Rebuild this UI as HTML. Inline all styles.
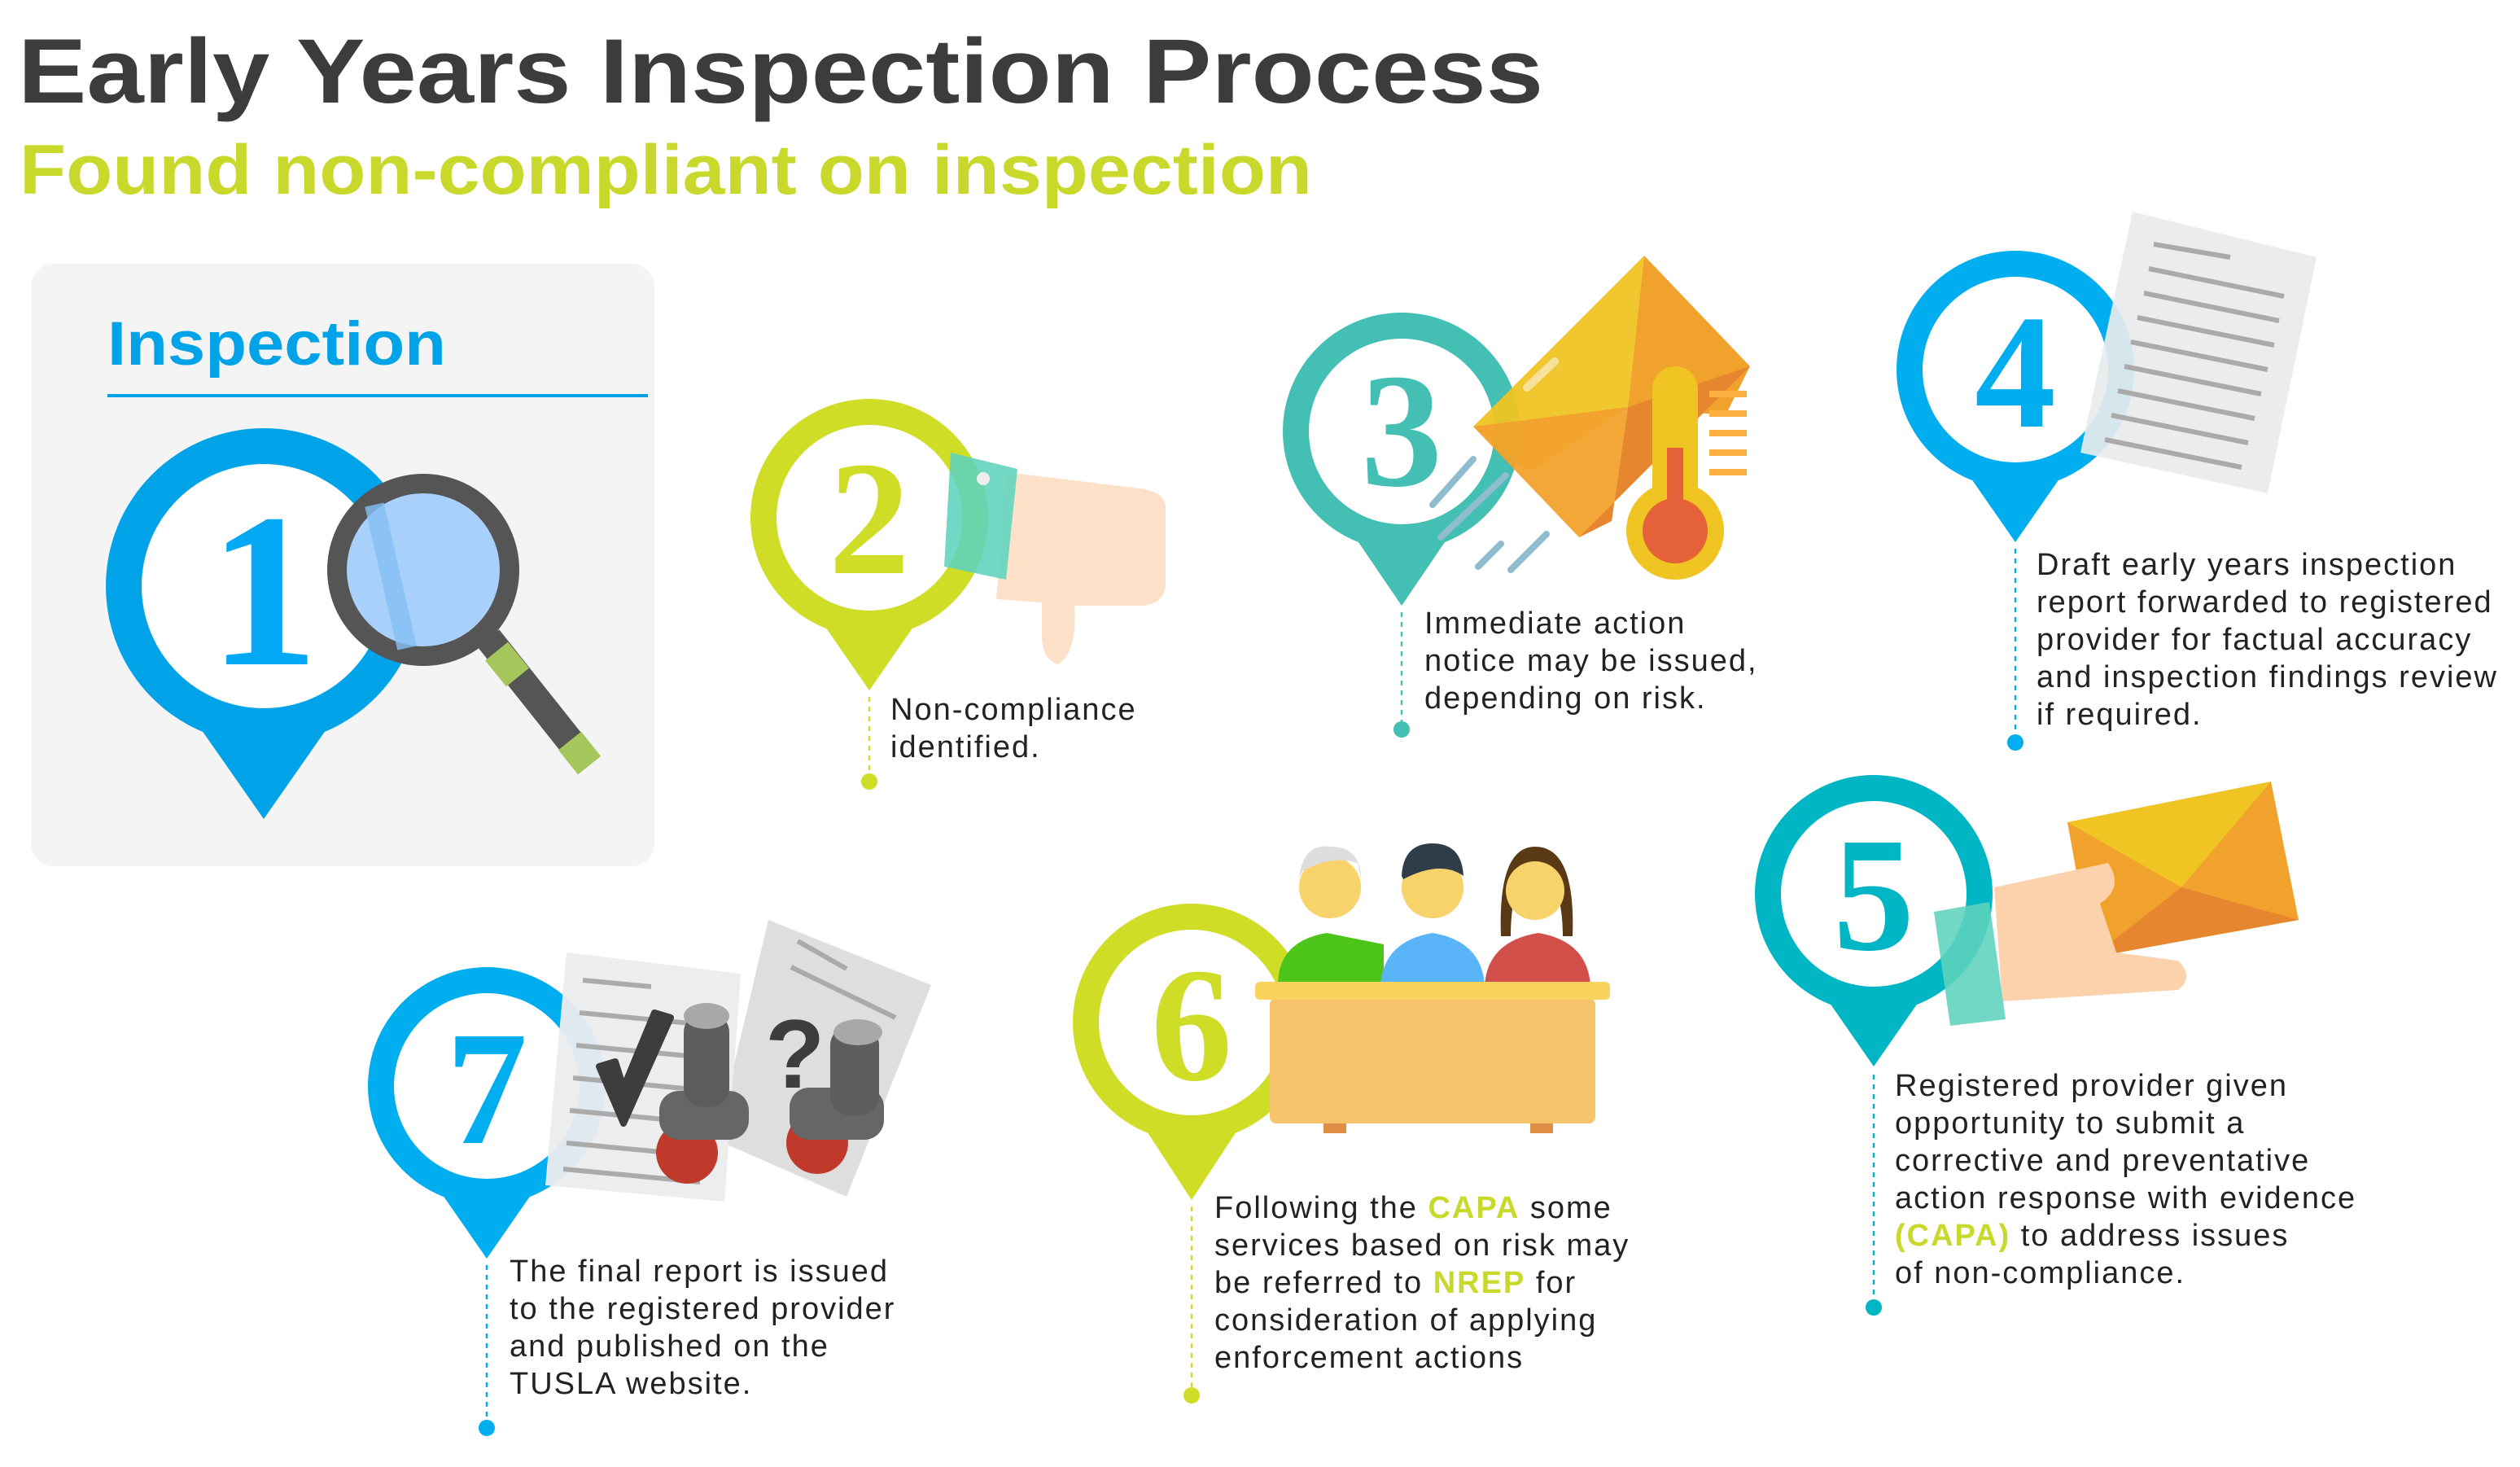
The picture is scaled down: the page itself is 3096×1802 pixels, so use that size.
<!DOCTYPE html>
<html><head><meta charset="utf-8"><style>
html,body{margin:0;padding:0;background:#fff;}
svg{display:block;}
.t{font-family:"Liberation Sans",sans-serif;font-size:19px;letter-spacing:1px;fill:#222;}
.n{font-family:"Liberation Serif",serif;font-weight:bold;}
</style></head><body>
<svg width="3096" height="1802" viewBox="0 0 1548 901" xmlns="http://www.w3.org/2000/svg">
<rect width="1548" height="901" fill="#fff"/>
<text x="11" y="63" font-family="Liberation Sans, sans-serif" font-weight="bold" font-size="56" fill="#3c3c3c" textLength="937" lengthAdjust="spacingAndGlyphs">Early Years Inspection Process</text>
<text x="12" y="119" font-family="Liberation Sans, sans-serif" font-weight="bold" font-size="43" fill="#c8d92c" textLength="794" lengthAdjust="spacingAndGlyphs">Found non-compliant on inspection</text>

<rect x="19" y="162" width="383" height="370" rx="14" fill="#f4f4f4"/>
<text x="66" y="224" font-family="Liberation Sans, sans-serif" font-weight="bold" font-size="38" fill="#00a3e8" textLength="208" lengthAdjust="spacingAndGlyphs">Inspection</text>
<rect x="66" y="242" width="332" height="2" fill="#00a3e8"/>

<!-- Pin 1 -->
<g fill="#00a3e8">
<circle cx="162" cy="360" r="97"/>
<polygon points="118,440 206,440 162,503"/>
</g>
<circle cx="162" cy="360" r="75" fill="#fff"/>
<text x="162" y="408" text-anchor="middle" class="n" font-size="135" fill="#03a9f4">1</text>
<line x1="300" y1="392" x2="362" y2="470" stroke="#555" stroke-width="17" stroke-linecap="butt"/>
<line x1="305" y1="400" x2="318" y2="416" stroke="#a5c65a" stroke-width="18"/>
<line x1="350" y1="455" x2="362" y2="470" stroke="#a5c65a" stroke-width="18"/>
<circle cx="260" cy="350" r="53" fill="#a8d0fa" stroke="#555" stroke-width="12"/>
<path d="M230,310 L250,398" stroke="#84c1f7" stroke-width="12" opacity=".8"/>

<!-- Pin 2 -->
<g fill="#cfdd26">
<circle cx="534" cy="318" r="73"/>
<polygon points="500,375 568,375 534,424"/>
</g>
<circle cx="534" cy="318" r="57" fill="#fff"/>
<text x="534" y="352" text-anchor="middle" class="n" font-size="100" fill="#cfdd26">2</text>
<path d="M618,290 L700,300 Q716,302 716,312 L716,360 Q714,372 700,372 L660,372 Q662,400 650,408 Q640,405 640,390 L640,370 L612,368 Z" fill="#fde0c8"/>
<polygon points="584,278 625,288 618,356 580,348" fill="#5fd3bd" opacity=".88"/>
<circle cx="604" cy="294" r="4" fill="#eee"/>
<line x1="534" y1="428" x2="534" y2="475" stroke="#cfdd26" stroke-width="1.2" stroke-dasharray="3,3"/>
<circle cx="534" cy="480" r="5" fill="#cfdd26"/>
<text class="t" transform="translate(0,-5)"><tspan x="547" y="447">Non-compliance</tspan><tspan x="547" y="470">identified.</tspan></text>

<!-- Pin 3 -->
<g fill="#43bfb3">
<circle cx="861" cy="265" r="73"/>
<polygon points="827,322 895,322 861,372"/>
</g>
<circle cx="861" cy="265" r="57" fill="#fff"/>
<text x="861" y="298" text-anchor="middle" class="n" font-size="100" fill="#43bfb3">3</text>
<polygon points="1010,157 905,262 940,290 1000,250" fill="#efc423" opacity=".95"/>
<polygon points="1010,157 1075,225 1060,255 1000,250" fill="#f1a22c"/>
<polygon points="905,262 1000,250 990,320 970,330" fill="#f1a22c" opacity=".95"/>
<polygon points="1000,250 1075,225 970,330 990,320" fill="#e6862f"/>
<line x1="938" y1="238" x2="955" y2="222" stroke="#f6e09a" stroke-width="5" stroke-linecap="round"/>
<rect x="1015" y="225" width="28" height="95" rx="14" fill="#efc423"/>
<circle cx="1029" cy="326" r="30" fill="#efc423"/>
<circle cx="1029" cy="326" r="20" fill="#e5613a"/>
<rect x="1024" y="275" width="10" height="50" fill="#e5613a"/>
<g stroke="#fbb040" stroke-width="4">
<line x1="1050" y1="242" x2="1073" y2="242"/><line x1="1050" y1="254" x2="1073" y2="254"/><line x1="1050" y1="266" x2="1073" y2="266"/><line x1="1050" y1="278" x2="1073" y2="278"/><line x1="1050" y1="290" x2="1073" y2="290"/>
</g>
<g stroke="#8fbccf" stroke-width="4" stroke-linecap="round">
<line x1="880" y1="310" x2="905" y2="282"/><line x1="885" y1="330" x2="925" y2="292"/><line x1="908" y1="348" x2="922" y2="334"/><line x1="928" y1="350" x2="950" y2="328"/>
</g>
<line x1="861" y1="376" x2="861" y2="443" stroke="#43bfb3" stroke-width="1.2" stroke-dasharray="3,3"/>
<circle cx="861" cy="448" r="5" fill="#43bfb3"/>
<text class="t" transform="translate(0,-5)"><tspan x="875" y="394">Immediate action</tspan><tspan x="875" y="417">notice may be issued,</tspan><tspan x="875" y="440">depending on risk.</tspan></text>

<!-- Pin 4 -->
<g fill="#00aeef">
<circle cx="1238" cy="227" r="73"/>
<polygon points="1204,284 1272,284 1238,333"/>
</g>
<circle cx="1238" cy="227" r="57" fill="#fff"/>
<text x="1238" y="262" text-anchor="middle" class="n" font-size="100" fill="#00aeef">4</text>
<polygon points="1310,130 1423,158 1393,303 1278,278" fill="#e8eaed" opacity=".92"/>
<g stroke="#aaa" stroke-width="3">
<line x1="1323" y1="150" x2="1370" y2="158"/><line x1="1320" y1="165" x2="1403" y2="182"/><line x1="1317" y1="180" x2="1400" y2="197"/><line x1="1313" y1="195" x2="1397" y2="212"/><line x1="1309" y1="210" x2="1393" y2="227"/><line x1="1305" y1="225" x2="1389" y2="242"/><line x1="1301" y1="240" x2="1385" y2="257"/><line x1="1297" y1="255" x2="1381" y2="272"/><line x1="1293" y1="270" x2="1377" y2="287"/>
</g>
<line x1="1238" y1="337" x2="1238" y2="451" stroke="#00aeef" stroke-width="1.2" stroke-dasharray="3,3"/>
<circle cx="1238" cy="456" r="5" fill="#00aeef"/>
<text class="t" transform="translate(0,-5)"><tspan x="1251" y="358">Draft early years inspection</tspan><tspan x="1251" y="381">report forwarded to registered</tspan><tspan x="1251" y="404">provider for factual accuracy</tspan><tspan x="1251" y="427">and inspection findings review</tspan><tspan x="1251" y="450">if required.</tspan></text>

<!-- Pin 5 -->
<g fill="#00b5c4">
<circle cx="1151" cy="549" r="73"/>
<polygon points="1117,606 1185,606 1151,655"/>
</g>
<circle cx="1151" cy="549" r="57" fill="#fff"/>
<text x="1151" y="583" text-anchor="middle" class="n" font-size="100" fill="#00b5c4">5</text>
<polygon points="1270,505 1395,480 1412,565 1285,588" fill="#f1a22c"/>
<polygon points="1270,505 1395,480 1340,545" fill="#efc423"/>
<polygon points="1285,588 1340,545 1412,565" fill="#e6862f"/>
<path d="M1225,545 L1295,530 Q1305,545 1290,555 L1300,585 L1338,590 Q1348,600 1338,608 L1230,615 Z" fill="#fcd2ad"/>
<polygon points="1188,560 1222,554 1232,626 1198,630" fill="#5fd3bd" opacity=".88"/>
<line x1="1151" y1="660" x2="1151" y2="798" stroke="#00b5c4" stroke-width="1.2" stroke-dasharray="3,3"/>
<circle cx="1151" cy="803" r="5" fill="#00b5c4"/>
<text class="t" transform="translate(0,-5)"><tspan x="1164" y="678">Registered provider given</tspan><tspan x="1164" y="701">opportunity to submit a</tspan><tspan x="1164" y="724">corrective and preventative</tspan><tspan x="1164" y="747">action response with evidence</tspan><tspan x="1164" y="770"><tspan fill="#c8d92c" font-weight="bold">(CAPA)</tspan> to address issues</tspan><tspan x="1164" y="793">of non-compliance.</tspan></text>

<!-- Pin 6 -->
<g fill="#cfdd26">
<circle cx="732" cy="628" r="73"/>
<polygon points="698,685 766,685 732,737"/>
</g>
<circle cx="732" cy="628" r="57" fill="#fff"/>
<text x="732" y="663" text-anchor="middle" class="n" font-size="100" fill="#cfdd26">6</text>
<path d="M785,605 Q785,578 815,573 L850,580 L850,605 Z" fill="#4cc41a"/>
<path d="M848,605 Q850,578 880,573 Q910,578 912,605 Z" fill="#5ab4f8"/>
<path d="M912,605 Q914,578 945,573 Q975,578 977,605 Z" fill="#d2504a"/>
<circle cx="817" cy="545" r="19" fill="#f8d26a"/>
<path d="M798,540 Q800,518 817,520 Q836,520 836,540 L834,530 Q818,525 800,535 Z" fill="#ddd"/>
<circle cx="880" cy="545" r="19" fill="#f8d26a"/>
<path d="M861,538 Q862,518 880,518 Q898,518 899,538 Q885,528 862,540 Z" fill="#2f3d48"/>
<path d="M922,575 Q920,520 943,520 Q968,520 966,575 L960,575 Q960,540 943,530 Q928,540 928,575 Z" fill="#5a3a14"/>
<circle cx="943" cy="547" r="18" fill="#f8d26a"/>
<rect x="780" y="613" width="200" height="77" rx="4" fill="#f6c46a"/>
<rect x="771" y="603" width="218" height="11" rx="3" fill="#f9d35e"/>
<rect x="813" y="690" width="14" height="6" fill="#e08d46"/><rect x="940" y="690" width="14" height="6" fill="#e08d46"/>
<line x1="732" y1="741" x2="732" y2="852" stroke="#cfdd26" stroke-width="1.2" stroke-dasharray="3,3"/>
<circle cx="732" cy="857" r="5" fill="#cfdd26"/>
<text class="t" transform="translate(0,-5)"><tspan x="746" y="753">Following the <tspan fill="#c8d92c" font-weight="bold">CAPA</tspan> some</tspan><tspan x="746" y="776">services based on risk may</tspan><tspan x="746" y="799">be referred to <tspan fill="#c8d92c" font-weight="bold">NREP</tspan> for</tspan><tspan x="746" y="822">consideration of applying</tspan><tspan x="746" y="845">enforcement actions</tspan></text>

<!-- Pin 7 -->
<g fill="#00aeef">
<circle cx="299" cy="667" r="73"/>
<polygon points="265,724 333,724 299,773"/>
</g>
<circle cx="299" cy="667" r="57" fill="#fff"/>
<text x="299" y="702" text-anchor="middle" class="n" font-size="100" fill="#00aeef">7</text>
<polygon points="472,565 572,605 520,735 440,700" fill="#dcdcdc" opacity=".95"/>
<polygon points="348,585 455,598 445,738 335,728" fill="#ebecee" opacity=".95"/>
<g stroke="#aaa" stroke-width="3">
<line x1="358" y1="602" x2="400" y2="606"/><line x1="356" y1="622" x2="440" y2="630"/><line x1="354" y1="642" x2="438" y2="650"/><line x1="352" y1="662" x2="436" y2="670"/><line x1="350" y1="682" x2="434" y2="690"/><line x1="348" y1="702" x2="432" y2="710"/><line x1="346" y1="718" x2="430" y2="726"/>
<line x1="490" y1="578" x2="520" y2="595"/><line x1="486" y1="594" x2="550" y2="625"/>
</g>
<path d="M368,655 L383,690 L412,625 L402,622 L383,668 L378,652 Z" fill="#3d3d3e" stroke="#3d3d3e" stroke-width="4" stroke-linejoin="round"/>
<text x="470" y="668" font-family="Liberation Sans, sans-serif" font-weight="bold" font-size="60" fill="#3d3d3e">?</text>
<circle cx="422" cy="708" r="19" fill="#c0392b"/>
<circle cx="502" cy="702" r="19" fill="#c0392b"/>
<rect x="405" y="670" width="55" height="30" rx="12" fill="#666"/>
<rect x="420" y="622" width="28" height="58" rx="12" fill="#5d5d5f"/>
<ellipse cx="434" cy="624" rx="14" ry="8" fill="#a8a8a8"/>
<rect x="485" y="668" width="58" height="32" rx="12" fill="#666"/>
<rect x="510" y="630" width="30" height="55" rx="12" fill="#5d5d5f"/>
<ellipse cx="527" cy="634" rx="15" ry="8" fill="#a8a8a8"/>
<line x1="299" y1="777" x2="299" y2="872" stroke="#00aeef" stroke-width="1.2" stroke-dasharray="3,3"/>
<circle cx="299" cy="877" r="5" fill="#00aeef"/>
<text class="t" transform="translate(0,-5)"><tspan x="313" y="792">The final report is issued</tspan><tspan x="313" y="815">to the registered provider</tspan><tspan x="313" y="838">and published on the</tspan><tspan x="313" y="861">TUSLA website.</tspan></text>
</svg>
</body></html>
